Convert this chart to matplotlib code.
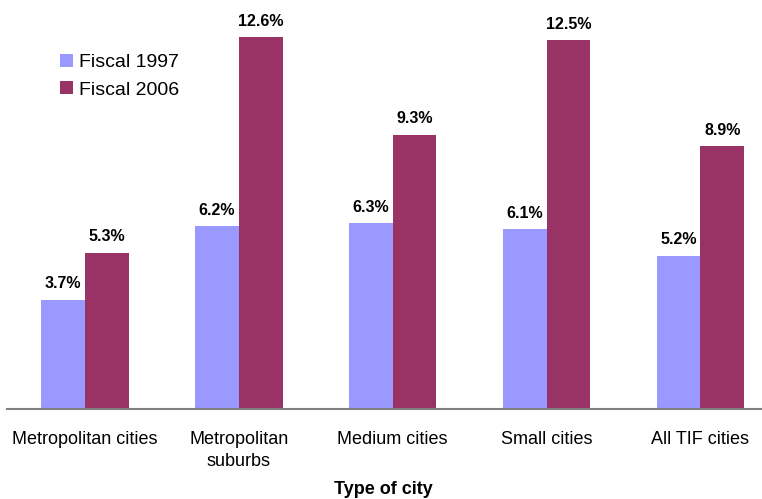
import numpy as np
import matplotlib.pyplot as plt

plt.rcParams['font.family'] = ['Liberation Sans', 'DejaVu Sans']

cities = ['Metropolitan cities', 'Metropolitan\nsuburbs', 'Medium cities',
          'Small cities', 'All TIF cities']
fy1997 = [3.7, 6.2, 6.3, 6.1, 5.2]
fy2006 = [5.3, 12.6, 9.3, 12.5, 8.9]

c1997 = '#9999FF'
c2006 = '#993366'

fig = plt.figure(figsize=(7.62, 4.99), dpi=100)
ax = fig.add_axes([0.009, 0.1804, 0.991, 0.8196])

x = np.arange(len(cities))
w = 0.285
b1 = ax.bar(x - w / 2, fy1997, w, color=c1997, label='Fiscal 1997')
b2 = ax.bar(x + w / 2, fy2006, w, color=c2006, label='Fiscal 2006')

for bars, vals in ((b1, fy1997), (b2, fy2006)):
    for bar, v in zip(bars, vals):
        ax.annotate(f'{v:.1f}%', (bar.get_x() + bar.get_width() / 2, v),
                    xytext=(0, 6), textcoords='offset points',
                    ha='center', va='bottom', fontsize=11.5, fontweight='bold')

ax.set_xlim(-0.506, 4.40)
ax.set_ylim(0, 13.86)
ax.set_yticks([])
ax.set_xticks(x)
ax.set_xticklabels(cities, fontsize=13, linespacing=1.35)
ax.tick_params(axis='x', length=0, pad=16)
for s in ('top', 'right', 'left'):
    ax.spines[s].set_visible(False)
ax.spines['bottom'].set_color('#808080')
ax.spines['bottom'].set_linewidth(1.5)

ax.set_xlabel('Type of city', fontsize=13, fontweight='bold')
ax.xaxis.set_label_coords(0.499, -0.176)

ax.legend(loc='upper left', bbox_to_anchor=(0.071, 0.868), frameon=False,
          fontsize=14, handlelength=0.65, handleheight=0.65,
          handletextpad=0.3, labelspacing=0.52, borderpad=0,
          borderaxespad=0)

fig.savefig('out.png')
